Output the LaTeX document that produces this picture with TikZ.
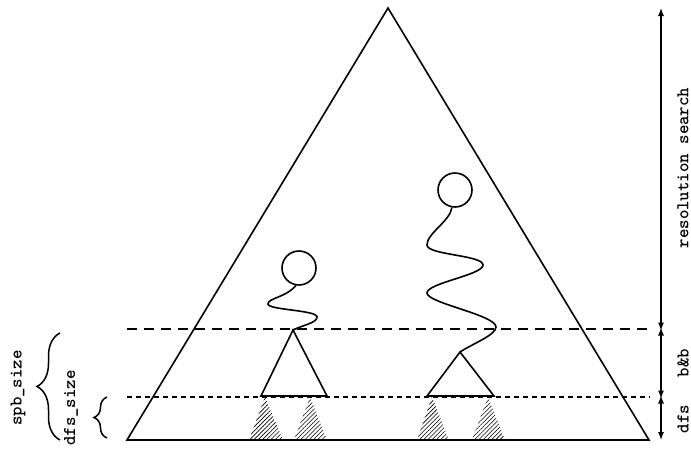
\documentclass[tikz,border=0pt]{standalone}
\usepackage{tikz}
\usetikzlibrary{arrows.meta,patterns.meta,decorations.pathreplacing}

\begin{document}
\begin{tikzpicture}[x=1pt,y=-1pt,
    every node/.style={font=\ttfamily\bfseries\fontsize{18}{20}\selectfont,inner sep=0pt},
    tree/.style={draw,line width=1.6pt,line join=miter},
    subtree/.style={pattern={Lines[angle=45,distance=3pt,line width=0.6pt]}},
    cut/.style={line width=1.5pt,dash pattern=on 10pt off 7pt},
    dfscut/.style={line width=1.5pt,dash pattern=on 5pt off 4pt},
    goal/.style={draw,circle,line width=1.6pt,minimum size=34pt,inner sep=0pt},
    dive/.style={line width=1.6pt},
    span/.style={{Latex[length=8pt,width=6pt]}-{Latex[length=8pt,width=6pt]},line width=1.1pt},
    sizebrace/.style={decorate,decoration={brace,amplitude=#1},line width=1.5pt}]
  \useasboundingbox (0,0) rectangle (691,456);

  % search tree
  \coordinate (top) at (388,8);
  \coordinate (bl) at (127,440);
  \coordinate (br) at (649,440);
  \draw[tree] (top) -- (bl) -- (br) -- cycle;

  % levels
  \coordinate (bbL) at (127,329);  \coordinate (bbR) at (650,329);
  \coordinate (dfL) at (127,397);  \coordinate (dfR) at (650,397);
  \draw[cut] (bbL) -- (bbR);
  \draw[dfscut] (dfL) -- (dfR);

  % b&b subtrees
  \coordinate (t1) at (293,330);
  \coordinate (t2) at (460,352);
  \draw[tree] (t1) -- (261,396) -- (327,396) -- cycle;
  \draw[tree] (t2) -- (427,396) -- (494,396) -- cycle;

  % dfs subtrees
  \fill[subtree] (265,397) -- (249,440) -- (283,440) -- cycle;
  \fill[subtree] (310,397) -- (294,440) -- (327,440) -- cycle;
  \fill[subtree] (432,397) -- (417,440) -- (449,440) -- cycle;
  \fill[subtree] (488,397) -- (472,440) -- (505,440) -- cycle;

  % goals and their dives
  \node[goal] (g1) at (299,268) {};
  \node[goal] (g2) at (455,190) {};
  \draw[dive] (g1.-100) .. controls +(-10,12) and +(0,-6) .. (268,304)
       .. controls +(0,6) and +(0,-7) .. (317,317)
       .. controls +(0,6) and +(10,-5) .. (t1);
  \draw[dive] (g2.-100) .. controls +(-2,14) and +(0,-12) .. (427,245)
       .. controls +(0,10) and +(0,-10) .. (483,265)
       .. controls +(0,10) and +(0,-10) .. (427,293)
       .. controls +(0,10) and +(0,-12) .. (496,327)
       .. controls +(0,8) and +(12,-8) .. (t2);

  % right side spans
  \coordinate (s0) at (661,8);
  \coordinate (s1) at (661,329);
  \coordinate (s2) at (661,397);
  \coordinate (s3) at (661,440);
  \draw[span] (s0) -- ([yshift=-1.5pt]s1);
  \draw[span] ([yshift=1.5pt]s1) -- ([yshift=-1.5pt]s2);
  \draw[span] ([yshift=1.5pt]s2) -- (s3);
  \node[rotate=90] (rs) at (683,168) {resolution search};
  \node[rotate=90] (bb) at (683,363) {b\&b};
  \node[rotate=90] (dfs) at (683,419) {dfs};

  % left side sizes
  \coordinate (b0) at (60,440);  \coordinate (b1) at (60,333);
  \coordinate (c0) at (107,438); \coordinate (c1) at (107,397);
  \draw[sizebrace=23pt] (b0) -- (b1);
  \draw[sizebrace=13pt] (c0) -- (c1);
  \node[rotate=90] (spb) at (18,388) {spb\_size};
  \node[rotate=90] (dfsz) at (71,408) {dfs\_size};
\end{tikzpicture}
\end{document}
